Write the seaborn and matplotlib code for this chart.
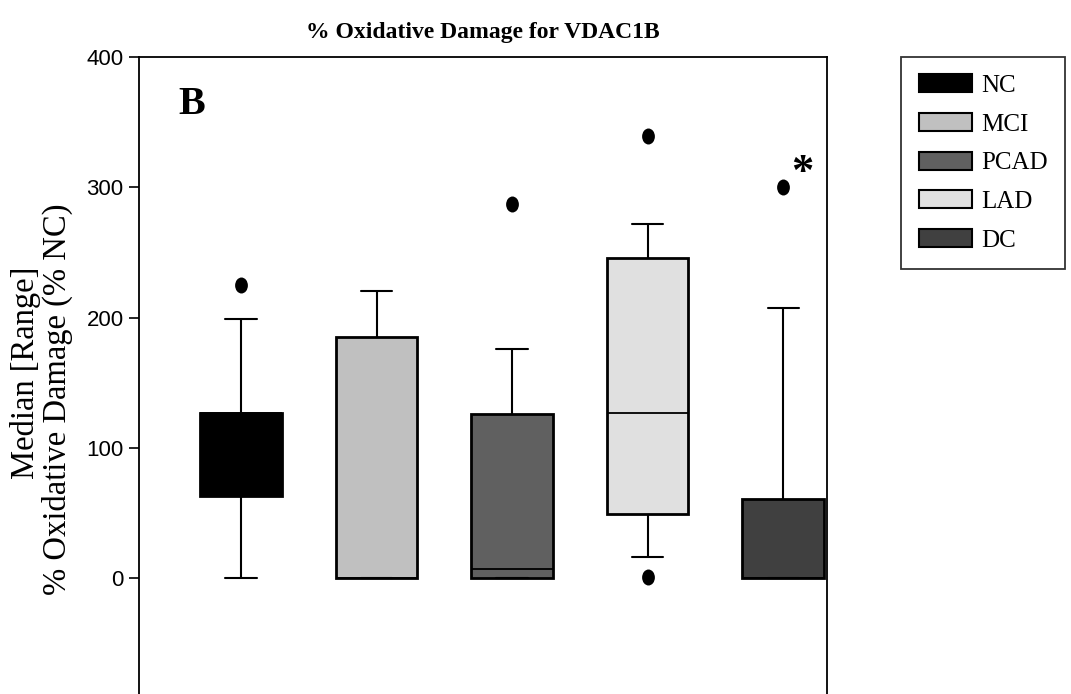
'''Diagrama de cajas: % de daño oxidativo para VDAC1B'''
import matplotlib.pyplot as plt
from matplotlib.patches import Patch
from matplotlib.path import Path
from matplotlib.transforms import Affine2D
import seaborn as sns
import pandas as pd

# Datos (mínimo, Q1, mediana, Q3, máximo de bigotes)
grupos = ['NC', 'MCI', 'PCAD', 'LAD', 'DC']
bigote_inf = [0, 0, 0, 16, 0]
q1 = [63, 0, 0, 49, 0]
mediana = [127, 0, 7, 127, 0]
q3 = [127, 185, 126, 246, 61]
bigote_sup = [199, 220, 176, 272, 207]
# Valores atípicos
atipicos_grupo = ['NC', 'PCAD', 'LAD', 'LAD', 'DC']
atipicos_valor = [225, 287, 339, 1, 300]
colores = ['#000000', '#c0c0c0', '#606060', '#e0e0e0', '#404040']

# Con 5 puntos por grupo los percentiles coinciden con los valores dados
filas = []
for i, g in enumerate(grupos):
    for v in [bigote_inf[i], q1[i], mediana[i], q3[i], bigote_sup[i]]:
        filas.append({'grupo': g, 'valor': v})
df = pd.DataFrame(filas)

sns.set_style('ticks')
plt.rcParams['font.family'] = ['Liberation Serif', 'DejaVu Serif']
plt.rcParams['text.color'] = 'black'
plt.rcParams['axes.labelcolor'] = 'black'
plt.rcParams['ytick.color'] = 'black'
plt.rcParams['ytick.labelcolor'] = 'black'

fig = plt.figure(figsize=(10.71, 6.94), dpi=100)
ax = fig.add_axes([139 / 1071, 0, 688 / 1071, 637 / 694])

paleta = dict(zip(grupos, colores))
sns.boxplot(data=df, x='grupo', y='valor', hue='grupo', order=grupos,
            palette=paleta, saturation=1, whis=(0, 100), width=0.6,
            linecolor='black', linewidth=2, legend=False, showfliers=False,
            capwidths=0.23, ax=ax,
            medianprops=dict(linewidth=1.3),
            whiskerprops=dict(linewidth=1.5),
            capprops=dict(linewidth=1.5))

# Puntos atípicos (elipses negras)
elipse = Path.unit_circle().transformed(Affine2D().scale(0.8, 1.0))
sns.stripplot(x=atipicos_grupo, y=atipicos_valor, order=grupos, jitter=False,
              color='black', size=11.5, marker=elipse, linewidth=0, ax=ax)

ax.set_xlim(-0.753, 4.324)
ax.set_ylim(-89, 400)
ax.set_yticks([0, 100, 200, 300, 400])
ax.set_xticks([])
ax.set_xlabel('')
ax.set_ylabel('')
for s in ['top', 'right', 'left']:
    ax.spines[s].set_linewidth(1.3)
    ax.spines[s].set_color('black')
ax.spines['bottom'].set_visible(False)
ax.tick_params(axis='y', length=7, width=1.2, color='black', labelcolor='black', pad=4)
for t in ax.get_yticklabels():
    t.set_family(['Liberation Sans', 'DejaVu Sans'])
    t.set_fontsize(16)

# Etiqueta del eje Y en dos líneas
fig.text(26 / 1071, 1 - 373 / 694, 'Median [Range]', rotation=90,
         fontsize=23.5, ha='center', va='center')
fig.text(57 / 1071, 1 - 399 / 694, '% Oxidative Damage (% NC)', rotation=90,
         fontsize=23.5, ha='center', va='center')

ax.set_title('% Oxidative Damage for VDAC1B', fontsize=17, fontweight='bold',
             pad=14, color='black')
ax.text(-0.465, 356, 'B', fontsize=29, fontweight='bold', va='baseline', ha='left')
ax.text(4.14, 311, '*', fontsize=32, fontweight='bold', ha='center', va='center')

# Leyenda con rectángulos de colores
manejadores = [Patch(facecolor=c, edgecolor='black', linewidth=1.5, label=g)
               for g, c in zip(grupos, colores)]
leg = fig.legend(handles=manejadores, loc='upper left',
                 bbox_to_anchor=(901 / 1071, 1 - 57 / 694),
                 bbox_transform=fig.transFigure, fancybox=False, frameon=True,
                 edgecolor='black', fontsize=18, handlelength=2.15,
                 handleheight=0.72, labelspacing=0.64, borderpad=0.7,
                 handletextpad=0.35, borderaxespad=0)
leg.get_frame().set_linewidth(1.3)
for t in leg.get_texts():
    t.set_color('black')

plt.savefig('out.png', dpi=100)
